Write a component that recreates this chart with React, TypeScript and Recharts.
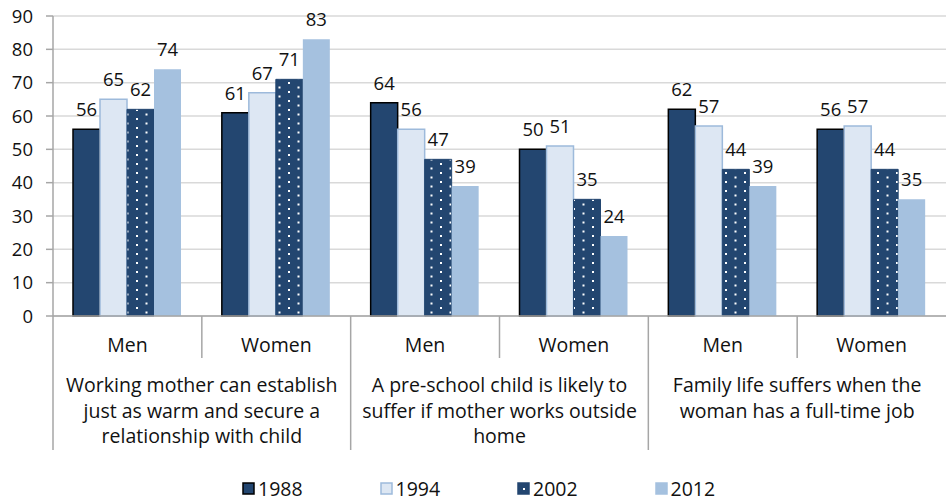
import { BarChart, Bar, XAxis, YAxis, CartesianGrid, LabelList } from 'recharts'

const categories = ['Men', 'Women', 'Men', 'Women', 'Men', 'Women']
const groupLabels = [
  ['Working mother can establish', 'just as warm and secure a', 'relationship with child'],
  ['A pre-school child is likely to', 'suffer if mother works outside', 'home'],
  ['Family life suffers when the', 'woman has a full-time job'],
]
const y1988 = [56, 61, 64, 50, 62, 56]
const y1994 = [65, 67, 56, 51, 57, 57]
const y2002 = [62, 71, 47, 35, 44, 44]
const y2012 = [74, 83, 39, 24, 39, 35]
const yTicks = [0, 10, 20, 30, 40, 50, 60, 70, 80, 90]

const data = categories.map((c, i) => ({
  name: c,
  y1988: y1988[i],
  y1994: y1994[i],
  y2002: y2002[i],
  y2012: y2012[i],
}))

const W = 946
const H = 501
const M = { top: 16, right: 0, bottom: 0, left: 0 }
const X_H = 185
const Y_W = 53
const BAND = (W - M.left - M.right - Y_W) / categories.length

const NAVY = '#234670'
const LIGHT = '#DDE7F3'
const LIGHT_EDGE = '#9DBADB'
const SKY = '#A5C1DF'
const GRAY = '#A6A6A6'
const FONT = '"Open Sans", sans-serif'
const FS = 18.5
const FS_CAT = 19.5

function CatTick(props: any) {
  const { x, y, payload } = props
  const i = payload.index
  const left = x - BAND / 2
  const first = i % 2 === 0
  const lines = first ? groupLabels[i / 2] : null
  return (
    <g>
      <line x1={left} y1={y} x2={left} y2={y + (first ? 134 : 42)} stroke={GRAY} strokeWidth={1.5} />
      <text x={x} y={y + 36} textAnchor="middle" fontSize={FS_CAT} fontFamily={FONT} fill="#111">
        {payload.value}
      </text>
      {lines &&
        lines.map((l, k) => (
          <text key={k} x={x + BAND / 2} y={y + 76 + k * 25.5} textAnchor="middle" fontSize={FS_CAT} fontFamily={FONT} fill="#111">
            {l}
          </text>
        ))}
    </g>
  )
}

const legendItems = [
  { label: '1988', fill: NAVY, stroke: '#000', dot: false },
  { label: '1994', fill: LIGHT, stroke: LIGHT_EDGE, dot: false },
  { label: '2002', fill: NAVY, stroke: NAVY, dot: true },
  { label: '2012', fill: SKY, stroke: SKY, dot: false },
]

function LegendBox() {
  return (
    <div style={{ position: 'absolute', left: 242, top: 478, display: 'flex', fontFamily: FONT, fontSize: FS_CAT, color: '#111', lineHeight: '22px' }}>
      {legendItems.map((it) => (
        <div key={it.label} style={{ width: 137.5, display: 'flex', alignItems: 'center' }}>
          <svg width={14} height={14} style={{ marginRight: 2 }}>
            <rect x={1} y={1} width={11} height={11} fill={it.fill} stroke={it.stroke} strokeWidth={1.5} />
            {it.dot && <rect x={6} y={6} width={2} height={2} fill="#fff" />}
          </svg>
          <span>{it.label}</span>
        </div>
      ))}
    </div>
  )
}

export default function App() {
  return (
    <div style={{ position: 'absolute', left: 0, top: 0, width: W, height: H, background: '#fff' }}>
      <BarChart width={W} height={H} data={data} margin={M} barSize={27} barGap={0}>
        <defs>
          <pattern id="dots2002" width={19} height={9} patternUnits="userSpaceOnUse">
            <rect width={19} height={9} fill={NAVY} />
            <rect x={3} y={1} width={2} height={2} fill="#fff" />
            <rect x={12.5} y={5.5} width={2} height={2} fill="#fff" />
          </pattern>
        </defs>
        <CartesianGrid vertical={false} stroke="#D9D9D9" strokeWidth={1.5} />
        <XAxis
          dataKey="name"
          tick={<CatTick />}
          tickLine={false}
          tickSize={0}
          tickMargin={0}
          interval={0}
          height={X_H}
          axisLine={{ stroke: GRAY, strokeWidth: 1.5 }}
        />
        <YAxis
          width={Y_W}
          domain={[0, 90]}
          ticks={yTicks}
          interval={0}
          tickSize={7}
          tickMargin={13}
          axisLine={{ stroke: GRAY, strokeWidth: 1.5 }}
          tickLine={{ stroke: GRAY, strokeWidth: 1.5 }}
          tick={{ fontSize: FS, fontFamily: FONT, fill: '#111' }}
        />
        <Bar dataKey="y1988" fill={NAVY} stroke="#000" strokeWidth={1.5} isAnimationActive={false}>
          <LabelList dataKey="y1988" position="top" offset={13} fontSize={FS} fontFamily={FONT} fill="#111" />
        </Bar>
        <Bar dataKey="y1994" fill={LIGHT} stroke={LIGHT_EDGE} strokeWidth={1.5} isAnimationActive={false}>
          <LabelList dataKey="y1994" position="top" offset={13} fontSize={FS} fontFamily={FONT} fill="#111" />
        </Bar>
        <Bar dataKey="y2002" fill="url(#dots2002)" stroke={NAVY} strokeWidth={1} isAnimationActive={false}>
          <LabelList dataKey="y2002" position="top" offset={13} fontSize={FS} fontFamily={FONT} fill="#111" />
        </Bar>
        <Bar dataKey="y2012" fill={SKY} isAnimationActive={false}>
          <LabelList dataKey="y2012" position="top" offset={13} fontSize={FS} fontFamily={FONT} fill="#111" />
        </Bar>
      </BarChart>
      <LegendBox />
    </div>
  )
}
